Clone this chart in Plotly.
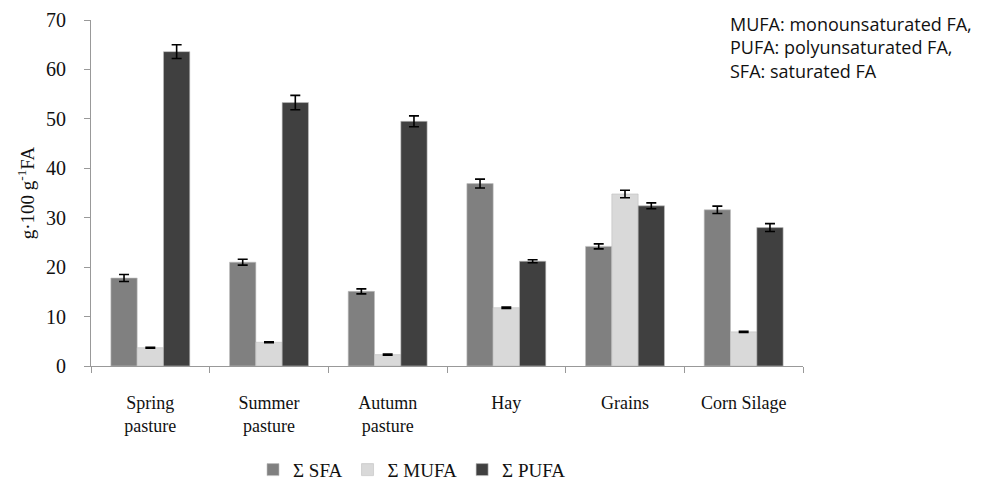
import plotly.graph_objects as go

categories = ["Spring<br>pasture", "Summer<br>pasture", "Autumn<br>pasture", "Hay", "Grains", "Corn Silage"]
sfa = [17.8, 21.0, 15.1, 36.9, 24.2, 31.6]
sfa_err = [0.7, 0.6, 0.5, 0.9, 0.5, 0.75]
mufa = [3.7, 4.8, 2.3, 11.8, 34.8, 6.9]
mufa_err = [0.1, 0.1, 0.1, 0.15, 0.75, 0.1]
pufa = [63.6, 53.3, 49.5, 21.2, 32.4, 28.0]
pufa_err = [1.4, 1.45, 1.1, 0.3, 0.6, 0.8]

series = [
    ("Σ SFA", sfa, sfa_err, "#808080"),
    ("Σ MUFA", mufa, mufa_err, "#d9d9d9"),
    ("Σ PUFA", pufa, pufa_err, "#404040"),
]

fig = go.Figure()
for name, vals, errs, col in series:
    fig.add_trace(go.Bar(
        x=categories, y=vals, name=name,
        marker=dict(color=col, line=dict(color="#bfbfbf", width=0.6)),
        error_y=dict(type="data", array=errs, color="black", thickness=1.6, width=5),
    ))

fig.update_layout(
    width=999, height=480,
    margin=dict(l=91, r=196, t=20, b=114, autoexpand=False),
    paper_bgcolor="white", plot_bgcolor="white",
    barmode="group", bargap=0.335, bargroupgap=0,
    font=dict(family="Liberation Serif", size=17, color="#111"),
    showlegend=True,
    legend=dict(orientation="h", x=(412 - 91) / 712, xanchor="center", y=-0.245, yanchor="top",
                font=dict(family="Liberation Serif", size=19, color="#111"),
                itemwidth=30, tracegroupgap=0),
    annotations=[dict(
        text="MUFA: monounsaturated FA,<br>PUFA: polyunsaturated FA,<br>SFA: saturated FA",
        xref="paper", yref="paper", x=(728 - 91) / 712, y=1.03, xanchor="left", yanchor="top",
        align="left", showarrow=False,
        font=dict(family="Open Sans", size=18, color="#111"),
    )],
)
fig.update_xaxes(
    showline=True, linecolor="#999", linewidth=1.2,
    ticks="outside", tickson="boundaries", ticklen=6, tickcolor="#999",
    tickfont=dict(family="Liberation Serif", size=18, color="#111"),
    ticklabelstandoff=20,
    showgrid=False,
)
fig.update_yaxes(
    range=[0, 70], dtick=10, showline=True, linecolor="#999", linewidth=1.2,
    ticks="outside", ticklen=6, tickcolor="#999", showgrid=False, zeroline=False,
    tickfont=dict(family="Liberation Serif", size=20, color="#111"),
    ticklabelstandoff=14,
    title=dict(text="g·100 g<sup>-1</sup>FA", font=dict(family="Liberation Serif", size=19, color="#111"), standoff=6),
)

fig.write_html("out.html")
